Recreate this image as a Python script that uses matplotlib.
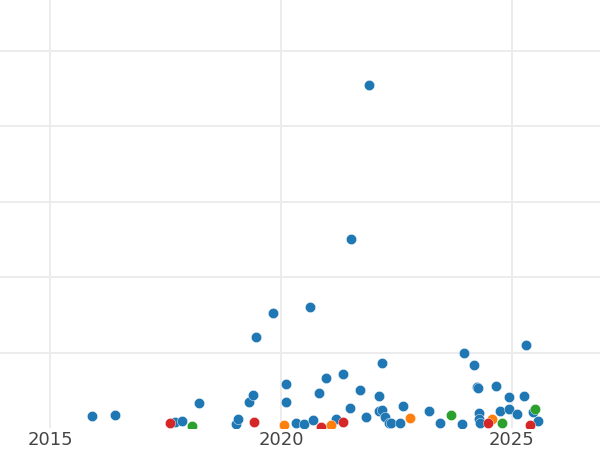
import matplotlib
matplotlib.use("Agg")
import matplotlib.pyplot as plt

blue_x = [2015.91, 2016.41, 2017.71, 2017.86, 2018.23, 2019.03, 2019.07, 2019.31, 2019.39, 2019.46,
          2019.83, 2020.11, 2020.11, 2020.33, 2020.50, 2020.63, 2020.69, 2020.82, 2020.97, 2021.19,
          2021.34, 2021.49, 2021.52, 2021.71, 2021.84, 2021.91, 2022.12, 2022.12, 2022.19, 2022.19,
          2022.25, 2022.34, 2022.38, 2022.58, 2022.64, 2023.20, 2023.44, 2023.92, 2023.96, 2024.18,
          2024.24, 2024.26, 2024.29, 2024.29, 2024.31, 2024.65, 2024.74, 2024.94, 2024.94, 2025.11,
          2025.26, 2025.30, 2025.46, 2025.56]
blue_y = [0.16, 0.17, 0.08, 0.09, 0.33, 0.05, 0.12, 0.34, 0.44, 1.20,
          1.52, 0.58, 0.34, 0.07, 0.05, 1.60, 0.11, 0.46, 0.66, 0.12,
          0.71, 0.27, 2.50, 0.50, 0.14, 4.54, 0.42, 0.23, 0.24, 0.86,
          0.15, 0.07, 0.07, 0.07, 0.29, 0.23, 0.07, 0.05, 0.99, 0.83,
          0.54, 0.53, 0.20, 0.12, 0.07, 0.56, 0.23, 0.41, 0.25, 0.19,
          0.42, 1.10, 0.21, 0.09]
orange_x = [2020.07, 2021.08, 2022.79, 2024.57]
orange_y = [0.04, 0.04, 0.13, 0.12]
green_x = [2018.07, 2023.68, 2024.78, 2025.50]
green_y = [0.03, 0.17, 0.07, 0.25]
red_x = [2017.60, 2019.42, 2020.87, 2021.34, 2024.48, 2025.39]
red_y = [0.07, 0.08, 0.01, 0.08, 0.07, 0.04]

xticks = [2015, 2020, 2025]
yticks = [1, 2, 3, 4, 5]

fig = plt.figure(figsize=(6, 4.5), dpi=100)
ax = fig.add_axes([0, 22 / 450, 1, 428 / 450])
ax.set_facecolor("white")

for xs, ys, c in [(blue_x, blue_y, "#1f77b4"), (orange_x, orange_y, "#ff7f0e"),
                  (green_x, green_y, "#2ca02c"), (red_x, red_y, "#d62728")]:
    ax.scatter(xs, ys, s=55, color=c, edgecolors="white", linewidths=0.3, zorder=3)

ax.set_xlim(2013.918, 2026.905)
ax.set_ylim(0, 428 / 75.5)
ax.set_xticks(xticks)
ax.set_xticklabels([str(t) for t in xticks])
ax.set_yticks(yticks)
ax.set_yticklabels([])
ax.grid(True, color="#ececec", linewidth=1.4, zorder=0)
ax.set_axisbelow(True)
ax.tick_params(axis="both", length=0, labelsize=13, colors="#444444", pad=2.5)
for s in ax.spines.values():
    s.set_visible(False)

fig.savefig("out.png", dpi=100, facecolor="white")
